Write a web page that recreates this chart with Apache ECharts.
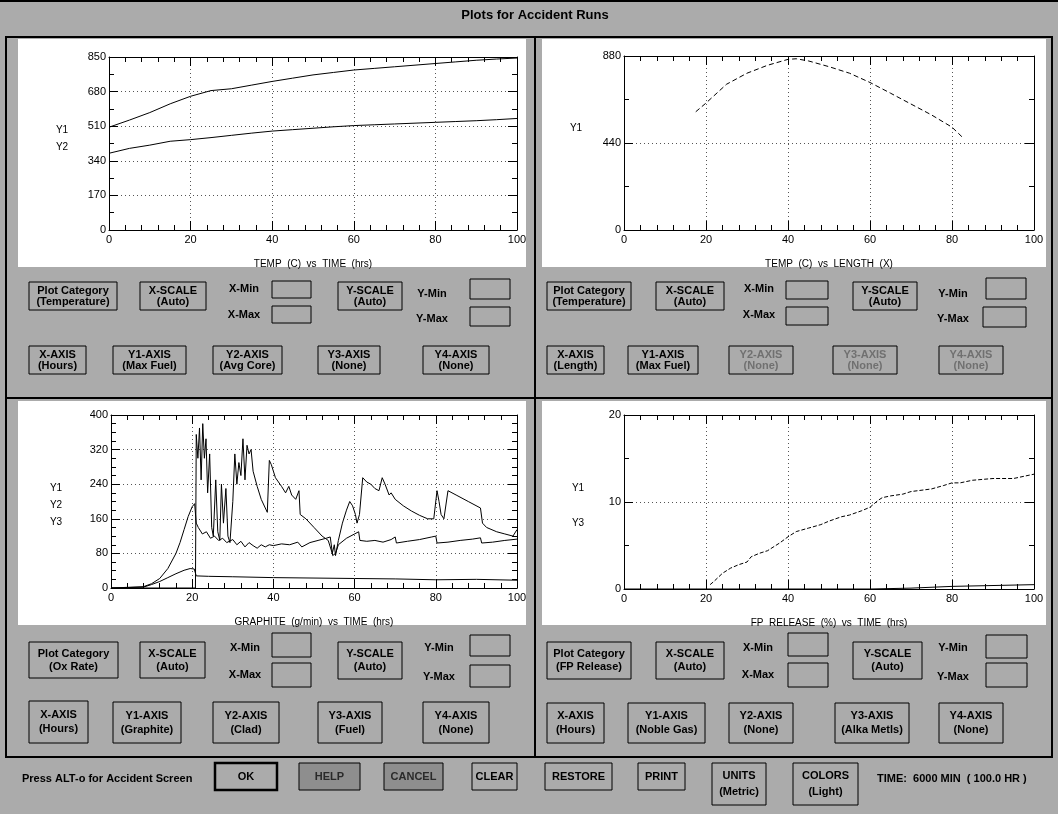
<!DOCTYPE html>
<html><head><meta charset="utf-8">
<script src="https://cdn.jsdelivr.net/npm/echarts@6/dist/echarts.min.js"></script>
<style>html,body{margin:0;padding:0;background:#ababab}#c{width:1058px;height:814px}</style>
</head><body><div id="c"></div>
<script>
// ---------- DATA ----------
// Top-left: TEMP (C) vs TIME (hrs)
const tlTime    = [0,5,10,15,20,25,30,35,40,45,50,55,60,65,70,75,80,85,90,95,100];
const tlMaxFuel = [505,540,577,620,657,685,694,712,730,746,762,774,786,794,802,810,818,826,834,840,845];
const tlAvgCore = [377,401,417,436,444,454,465,476,486,493,500,507,513,517,521,525,529,533,537,542,548];
const tlYTicks  = [0,170,340,510,680,850];

// Top-right: TEMP (C) vs LENGTH (X)
const trLength  = [17.5,20,25,30,35,40,42,45,50,55,60,65,70,75,80,82.5];
const trMaxFuel = [598,642,737,793,833,863,866,855,826,793,746,692,637,582,520,470];
const trYTicks  = [0,440,880];

// Bottom-left: GRAPHITE (g/min) vs TIME (hrs)
const blGraphiteT = [0,20.8,21.0,21.4,21.8,22.2,22.6,23.0,23.4,23.8,24.3,24.8,25.2,25.8,26.3,26.8,27.2,27.7,28.3,28.8,29.3,30.0,30.5,31.0,31.5,32.0,32.5,33.0,33.5,34.0,34.5,35.0,36.0,37.0,38.0,38.5,39.0,39.5,40.5,42.0,43.0,43.8,44.5,45.5,46.3,46.6,48.0,50.0,52.0,53.5,54.5,55.0,55.3,56.0,57.0,58.0,58.8,59.5,60.2,60.6,61.2,62.0,63.0,64.0,65.0,66.0,66.8,67.5,68.5,69.0,70.0,72.0,74.0,76.0,78.0,79.5,80.3,80.8,81.3,82.0,83.0,85.0,88.0,91.0,91.5,92.5,95.0,97.0,99.0,100];
const blGraphite  = [0,0,355,300,370,250,380,300,345,220,310,140,120,250,130,110,240,150,230,120,105,200,310,240,290,260,345,250,330,310,320,270,235,205,185,175,295,285,255,235,220,235,215,205,225,170,160,140,120,110,80,100,75,110,150,180,200,190,170,150,170,255,245,240,230,225,255,240,215,220,205,190,178,168,160,160,225,200,170,160,225,215,200,185,150,140,130,125,120,135];
const blCladT = [0,8,10,12,14,16,17,18,19,20,20.6,21.0,21.5,22.5,23.5,24.5,25.5,26.5,27.5,28.5,30,31,32,33,34,35,36,37,38,39,40,42,44,46,47,49,51,53,54,54.6,55.3,56,58,60,61,61.3,63,65,67,69,70,70.3,73,76,79,80,80.3,83,86,89,91,91.3,94,97,100];
const blClad  = [0,3,10,22,45,80,105,135,165,188,195,150,140,125,130,115,120,110,115,105,112,100,108,95,105,98,92,100,95,100,98,102,100,106,95,105,110,115,118,75,80,100,115,125,130,110,108,110,106,112,118,104,108,112,118,120,104,106,110,113,116,104,106,110,113];
const blFuelT = [0,8,10,12,14,16,18,19.5,20.5,21,24,30,40,50,60,70,80,90,100];
const blFuel  = [0,2,8,15,24,33,41,45,44,28,27,26,24,23,22,21,19,20,18];
const blYTicks = [0,80,160,240,320,400];

// Bottom-right: FP RELEASE (%) vs TIME (hrs)
const brTime  = [21,22,24,26,28,30,31,33,35,38,40,42,45,48,50,53,55,58,60,62,63,65,68,70,75,78,80,82,85,90,95,100];
const brNoble = [0.5,0.9,1.8,2.4,2.8,3.1,3.7,4.1,4.4,5.3,6.0,6.6,7.0,7.4,7.8,8.3,8.5,9.0,9.4,10.2,10.5,10.7,10.9,11.2,11.5,11.9,12.2,12.2,12.5,12.7,12.7,13.2];
const brAlkaT = [0,60,70,80,90,100];
const brAlka  = [0,0,0.1,0.3,0.4,0.5];
const brYTicks = [0,10,20];

const xTickLabels = [0,20,40,60,80,100];

// ---------- HELPERS ----------
const FONT = '"Liberation Sans", Arial, sans-serif';
const pairs = (xs, ys) => xs.map((x, i) => [x, ys[i]]);
const BG = '#ababab';

const grids = [
  {left:109, top:57,  width:408, height:173},
  {left:624, top:56,  width:410, height:174},
  {left:111, top:415, width:406, height:173},
  {left:624, top:415, width:410, height:174}
];
const yCfg = [
  {ticks: tlYTicks, minor: 2},
  {ticks: trYTicks, minor: 2},
  {ticks: blYTicks, minor: 4},
  {ticks: brYTicks, minor: 2}
];
const xNames = ['TEMP  (C)  vs  TIME  (hrs)', 'TEMP  (C)  vs  LENGTH  (X)', 'GRAPHITE  (g/min)  vs  TIME  (hrs)', 'FP  RELEASE  (%)  vs  TIME  (hrs)'];

const line = {color:'#000', width:1};
const xAxes = [], yAxes = [];
grids.forEach((g, i) => {
  const xmin = xTickLabels[0], xmax = xTickLabels[xTickLabels.length-1];
  const xint = xTickLabels[1] - xTickLabels[0];
  const base = {
    gridIndex:i, type:'value', min:xmin, max:xmax, interval:xint,
    axisLine:{show:true, onZero:false, lineStyle:line},
    axisTick:{show:true, inside:true, length:9, lineStyle:line},
    minorTick:{show:true, splitNumber:5, length:5, lineStyle:line}
  };
  xAxes.push(Object.assign({}, base, {
    position:'bottom', name:xNames[i], nameLocation:'middle', nameGap:29,
    nameTextStyle:{color:'#000', fontSize:10, fontFamily:FONT},
    axisLabel:{color:'#000', fontSize:11, fontFamily:FONT, margin:4},
    splitLine:{show:true, lineStyle:{color:'#555', width:1, type:[1,3]}}
  }));
  xAxes.push(Object.assign({}, base, {
    position:'top', axisLabel:{show:false}, splitLine:{show:false}
  }));
  const yt = yCfg[i].ticks;
  const ybase = {
    gridIndex:i, type:'value', min:yt[0], max:yt[yt.length-1], interval:yt[1]-yt[0],
    axisLine:{show:true, onZero:false, lineStyle:line},
    axisTick:{show:true, inside:true, length:9, lineStyle:line},
    minorTick:{show:true, splitNumber:yCfg[i].minor, length:5, lineStyle:line}
  };
  yAxes.push(Object.assign({}, ybase, {
    position:'left',
    axisLabel:{color:'#000', fontSize:11, fontFamily:FONT, margin:3},
    splitLine:{show:true, lineStyle:{color:'#555', width:1, type:[1,3]}}
  }));
  yAxes.push(Object.assign({}, ybase, {
    position:'right', axisLabel:{show:false}, splitLine:{show:false}
  }));
});

function ser(gi, data, dash) {
  return {type:'line', xAxisIndex:gi*2, yAxisIndex:gi*2, data, showSymbol:false, symbol:'none',
    animation:false, lineStyle:{color:'#000', width:1, type: dash || 'solid'}, z:3};
}
const series = [
  ser(0, pairs(tlTime, tlMaxFuel)),
  ser(0, pairs(tlTime, tlAvgCore)),
  ser(1, pairs(trLength, trMaxFuel), [5,3]),
  ser(2, pairs(blGraphiteT, blGraphite)),
  ser(2, pairs(blCladT, blClad)),
  ser(2, pairs(blFuelT, blFuel)),
  ser(3, pairs(brTime, brNoble), [4,2]),
  ser(3, pairs(brAlkaT, brAlka))
];

// ---------- GRAPHIC (window chrome) ----------
const G = [];
const BFONT = 'bold 11px ' + FONT;
function rect(x, y, w, h, style, z) { G.push({type:'rect', shape:{x, y, width:w, height:h}, style, z:(z===undefined?1:z), silent:true}); }
function ln(x1, y1, x2, y2, w) { G.push({type:'line', shape:{x1, y1, x2, y2}, style:{stroke:'#000', lineWidth:w||1}, z:2, silent:true}); }
function txt(x, y, t, o) {
  G.push({type:'text', x, y, z:5, silent:true,
    style:Object.assign({text:t, fill:'#000', font:BFONT, textAlign:'center', align:'center', textVerticalAlign:'middle', verticalAlign:'middle'}, o || {})});
}
function btn(x, y, w, h, lines, o) {
  o = o || {};
  rect(x, y, w, h, {fill: o.fill || 'none', stroke:'#000', lineWidth: o.lw || 1});
  const cx = x + w/2;
  if (lines.length === 1) txt(cx, y + h/2, lines[0], {fill:o.color || '#000'});
  else {
    const gap = o.gap || 11;
    const cy = y + h/2;
    txt(cx, cy - gap/2, lines[0], {fill:o.color || '#000'});
    txt(cx, cy + gap/2, lines[1], {fill:o.color || '#000'});
  }
}
function box(x, y, w, h) { rect(x, y, w, h, {fill:'none', stroke:'#000', lineWidth:1}); }
function lbl(x, y, t) { txt(x, y, t, {}); }

// title
ln(0, 1, 1058, 1, 2);
txt(535, 15, 'Plots for Accident Runs', {font:'bold 13px ' + FONT});

// white plot areas
rect(18, 39, 508, 228, {fill:'#fff'}, -1);
rect(542, 39, 504, 228, {fill:'#fff'}, -1);
rect(18, 401, 508, 224, {fill:'#fff'}, -1);
rect(542, 401, 504, 224, {fill:'#fff'}, -1);

// frames
rect(6, 37, 1046, 720, {fill:'none', stroke:'#000', lineWidth:2}, 2);
ln(535, 37, 535, 757, 2);
ln(6, 398, 1052, 398, 2);

// Y series labels
const YF = {font:'10px ' + FONT};
txt(62, 130, 'Y1', YF); txt(62, 147, 'Y2', YF);
txt(576, 128, 'Y1', YF);
txt(56, 488, 'Y1', YF); txt(56, 505, 'Y2', YF); txt(56, 522, 'Y3', YF);
txt(578, 488, 'Y1', YF); txt(578, 523, 'Y3', YF);

// --- top-left controls
btn(29, 282, 88, 28, ['Plot Category', '(Temperature)']);
btn(140, 282, 66, 28, ['X-SCALE', '(Auto)']);
lbl(244, 289, 'X-Min'); box(272, 281, 39, 17);
lbl(244, 315, 'X-Max'); box(272, 306, 39, 17);
btn(338, 282, 64, 28, ['Y-SCALE', '(Auto)']);
lbl(432, 294, 'Y-Min'); box(470, 279, 40, 20);
lbl(432, 319, 'Y-Max'); box(470, 307, 40, 19);
btn(29, 346, 57, 28, ['X-AXIS', '(Hours)']);
btn(113, 346, 73, 28, ['Y1-AXIS', '(Max Fuel)']);
btn(213, 346, 69, 28, ['Y2-AXIS', '(Avg Core)']);
btn(318, 346, 62, 28, ['Y3-AXIS', '(None)']);
btn(423, 346, 66, 28, ['Y4-AXIS', '(None)']);

// --- top-right controls
btn(547, 282, 84, 28, ['Plot Category', '(Temperature)']);
btn(656, 282, 68, 28, ['X-SCALE', '(Auto)']);
lbl(759, 289, 'X-Min'); box(786, 281, 42, 18);
lbl(759, 315, 'X-Max'); box(786, 307, 42, 18);
btn(853, 282, 64, 28, ['Y-SCALE', '(Auto)']);
lbl(953, 294, 'Y-Min'); box(986, 278, 40, 21);
lbl(953, 319, 'Y-Max'); box(983, 307, 43, 20);
btn(547, 346, 57, 28, ['X-AXIS', '(Length)']);
btn(628, 346, 70, 28, ['Y1-AXIS', '(Max Fuel)']);
btn(729, 346, 64, 28, ['Y2-AXIS', '(None)'], {color:'#707070'});
btn(833, 346, 64, 28, ['Y3-AXIS', '(None)'], {color:'#707070'});
btn(939, 346, 64, 28, ['Y4-AXIS', '(None)'], {color:'#707070'});

// --- bottom-left controls
btn(29, 642, 89, 36, ['Plot Category', '(Ox Rate)'], {gap:13});
btn(140, 642, 65, 36, ['X-SCALE', '(Auto)'], {gap:13});
lbl(245, 648, 'X-Min'); box(272, 633, 39, 24);
lbl(245, 675, 'X-Max'); box(272, 663, 39, 24);
btn(338, 642, 64, 37, ['Y-SCALE', '(Auto)'], {gap:13});
lbl(439, 648, 'Y-Min'); box(470, 635, 40, 21);
lbl(439, 677, 'Y-Max'); box(470, 665, 40, 22);
btn(29, 701, 59, 42, ['X-AXIS', '(Hours)'], {gap:14});
btn(113, 702, 68, 41, ['Y1-AXIS', '(Graphite)'], {gap:14});
btn(213, 702, 66, 41, ['Y2-AXIS', '(Clad)'], {gap:14});
btn(318, 702, 64, 41, ['Y3-AXIS', '(Fuel)'], {gap:14});
btn(423, 702, 66, 41, ['Y4-AXIS', '(None)'], {gap:14});

// --- bottom-right controls
btn(547, 642, 84, 37, ['Plot Category', '(FP Release)'], {gap:13});
btn(656, 642, 68, 37, ['X-SCALE', '(Auto)'], {gap:13});
lbl(758, 648, 'X-Min'); box(788, 633, 40, 23);
lbl(758, 675, 'X-Max'); box(788, 663, 40, 24);
btn(853, 642, 69, 37, ['Y-SCALE', '(Auto)'], {gap:13});
lbl(953, 648, 'Y-Min'); box(986, 635, 41, 23);
lbl(953, 677, 'Y-Max'); box(986, 663, 41, 24);
btn(547, 703, 57, 40, ['X-AXIS', '(Hours)'], {gap:14});
btn(628, 703, 77, 40, ['Y1-AXIS', '(Noble Gas)'], {gap:14});
btn(729, 703, 64, 40, ['Y2-AXIS', '(None)'], {gap:14});
btn(835, 703, 74, 40, ['Y3-AXIS', '(Alka Metls)'], {gap:14});
btn(939, 703, 64, 40, ['Y4-AXIS', '(None)'], {gap:14});

// --- bottom bar
txt(22, 779, 'Press ALT-o for Accident Screen', {textAlign:'left', align:'left'});
btn(215, 763, 62, 27, ['OK'], {lw:2.5});
btn(299, 763, 61, 27, ['HELP'], {fill:'#8e8e8e', color:'#2a2a2a'});
btn(384, 763, 59, 27, ['CANCEL'], {fill:'#8e8e8e', color:'#2a2a2a'});
btn(472, 763, 45, 27, ['CLEAR']);
btn(545, 763, 67, 27, ['RESTORE']);
btn(638, 763, 47, 27, ['PRINT']);
btn(712, 763, 54, 42, ['UNITS', '(Metric)'], {gap:16});
btn(793, 763, 65, 42, ['COLORS', '(Light)'], {gap:16});
txt(877, 779, 'TIME:  6000 MIN  ( 100.0 HR )', {textAlign:'left', align:'left'});

// ---------- CHART ----------
const chart = echarts.init(document.getElementById('c'), null, {renderer:'canvas'});
chart.setOption({
  backgroundColor: BG,
  animation: false,
  grid: grids,
  xAxis: xAxes,
  yAxis: yAxes,
  series: series,
  graphic: {elements: G}
});
</script>
</body></html>
